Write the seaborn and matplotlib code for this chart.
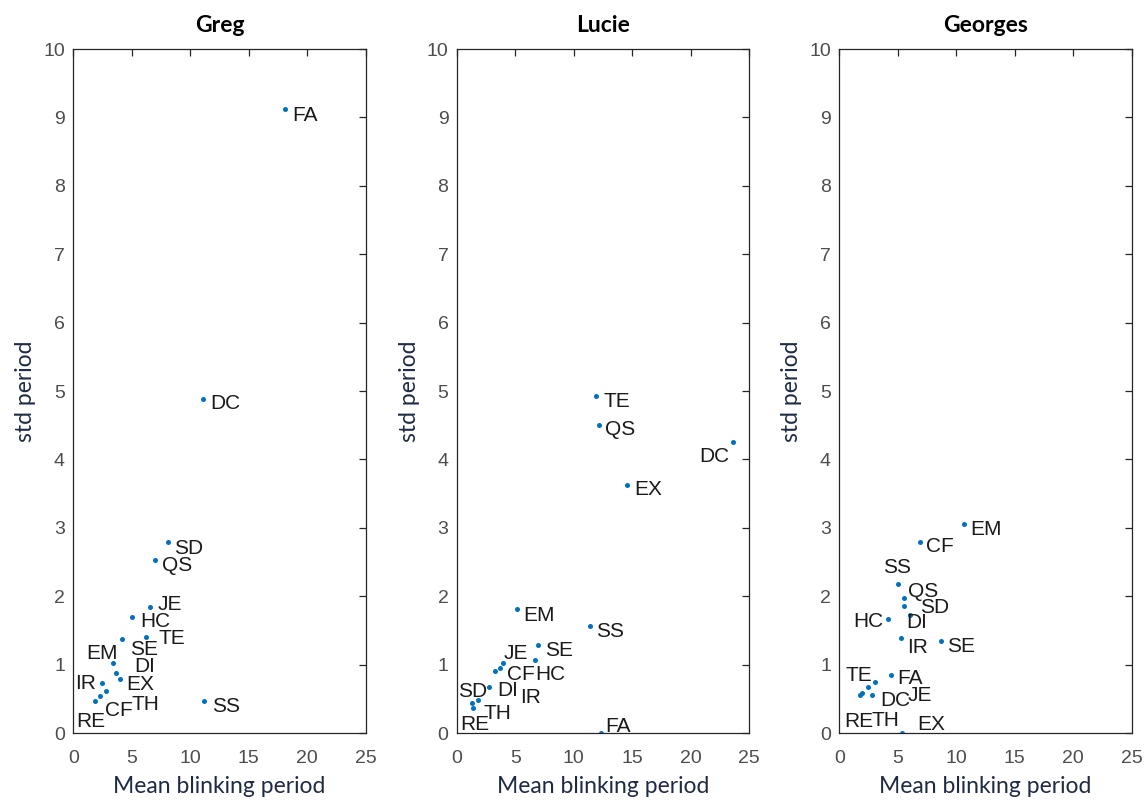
import matplotlib
matplotlib.use('Agg')
import matplotlib.pyplot as plt
import seaborn as sns
import pandas as pd

names = ['FA','DC','SD','QS','JE','HC','SE','TE','EM','DI','IR','EX','TH','CF','RE','SS']

greg_x = [18.1, 11.06, 8.12, 6.98, 6.56, 4.99, 4.19, 6.19, 3.37, 3.62, 2.48, 3.99, 2.77, 2.28, 1.85, 11.2]
greg_y = [9.12, 4.88, 2.79, 2.53, 1.84, 1.69, 1.38, 1.41, 1.03, 0.88, 0.73, 0.79, 0.62, 0.54, 0.47, 0.47]

lucie_x = [12.36, 23.65, 1.85, 12.14, 3.94, 6.71, 6.94, 11.91, 5.14, 3.28, 2.79, 14.57, 1.34, 3.71, 1.42, 11.42]
lucie_y = [0.0, 4.25, 0.49, 4.51, 1.02, 1.07, 1.29, 4.93, 1.81, 0.91, 0.68, 3.62, 0.44, 0.95, 0.37, 1.56]

georges_x = [4.4, 2.83, 5.49, 5.54, 3.06, 4.2, 8.69, 2.49, 10.69, 6.05, 5.26, 5.35, 1.97, 6.86, 1.77, 5.0]
georges_y = [0.85, 0.56, 1.86, 1.98, 0.74, 1.67, 1.34, 0.67, 3.06, 1.73, 1.39, 0.0, 0.58, 2.80, 0.56, 2.18]

# label offsets in pixels (right, up) from each dot, as placed in the original
greg_off = [(7.7,-4),(7.3,-2.7),(6,-4.4),(6.7,-4),(8,4.6),(8.3,-1.7),(7.7,-8.4),(12.6,0),
            (-26.7,11),(18.3,8),(-27.3,1.6),(6.7,-3.5),(26,-11.5),(5,-12.3),(-19,-18.3),(7.4,-3.3)]
lucie_off = [(4,8.3),(-34.4,-12.3),(-20,10),(6,-3.3),(0.6,11.6),(0,-12.7),(7.3,-3.3),(7.6,-3.3),
             (6.6,-4.7),(2.3,-17.3),(30.7,-9.3),(6.6,-1.6),(11,-8.4),(6.7,-4.4),(-13.3,-14.4),(6,-3.3)]
georges_off = [(6,-1.7),(7.7,-4),(16.7,0),(4.3,8.4),(32.3,-10.6),(-35,-1),(6,-3.3),(-23.3,13.7),
               (6,-4),(-4,-5.7),(6.6,-7.7),(15,10.6),(9.4,-25.3),(6.7,-2.6),(-16,-24.3),(-15,18)]

panels = [('Greg', greg_x, greg_y, greg_off),
          ('Lucie', lucie_x, lucie_y, lucie_off),
          ('Georges', georges_x, georges_y, georges_off)]

sns.set_theme(style='white')
plt.rcParams['font.family'] = ['Liberation Sans', 'DejaVu Sans']

fig = plt.figure(figsize=(11.45, 8.05), dpi=100)
lefts = [0.064, 0.3989, 0.733]

for left, (title, xs, ys, offs) in zip(lefts, panels):
    ax = fig.add_axes([left, 0.0894, 0.2554, 0.8497])
    df = pd.DataFrame({'x': xs, 'y': ys, 'name': names})
    sns.scatterplot(data=df, x='x', y='y', ax=ax, color='#0072BD', s=13,
                    linewidth=0, legend=False)
    for (_, row), (dx, dy) in zip(df.iterrows(), offs):
        ax.annotate(row['name'], (row['x'], row['y']), xytext=(dx, dy - 7.5),
                    textcoords='offset pixels', ha='left', va='baseline',
                    fontsize=15, color='#1a1a1a')
    ax.set_xlim(0, 25)
    ax.set_ylim(0, 10)
    ax.set_xticks(range(0, 26, 5))
    ax.set_yticks(range(0, 11))
    ax.tick_params(direction='in', top=True, right=True, length=5, width=0.9,
                   color='#262626', labelsize=14, labelcolor='#4d4d4d')
    ax.tick_params(axis='x', pad=12)
    ax.tick_params(axis='y', pad=6)
    for sp in ax.spines.values():
        sp.set_color('#262626')
        sp.set_linewidth(0.9)
    ax.set_title(title, fontsize=16.5, fontweight='bold', family='Lato', pad=12, color='black')
    ax.set_xlabel('Mean blinking period', fontsize=16.5, family='Lato', color='#1f2a44', labelpad=7)
    ax.set_ylabel('std period', fontsize=16.5, family='Lato', color='#1f2a44', labelpad=5)

fig.savefig('out.png', dpi=100)
